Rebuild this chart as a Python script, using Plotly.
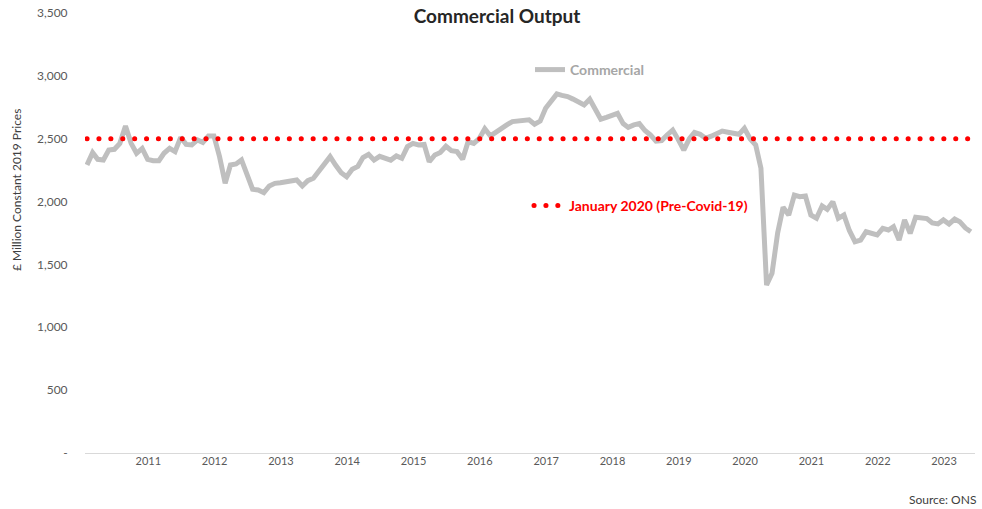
import pandas as pd
import plotly.graph_objects as go

# ---- data ----
start_month = "2010-01-01"
commercial = [
    2291, 2389, 2336, 2331, 2410, 2416, 2463, 2601, 2463, 2384, 2423, 2336,
    2325, 2325, 2384, 2423, 2397, 2511, 2455, 2450, 2490, 2471, 2522, 2522,
    2357, 2145, 2291, 2299, 2331, 2225, 2098, 2092, 2071, 2124, 2145, 2150,
    2158, 2156, 2172, 2124, 2166, 2185, 2240, 2300, 2357, 2290, 2230, 2198,
    2257, 2280, 2350, 2376, 2330, 2360, 2344, 2330, 2363, 2344, 2437, 2463,
    2450, 2455, 2317, 2371, 2390, 2440, 2405, 2397, 2336, 2476, 2462, 2500,
    2580, 2522, 2550, 2575, 2610, 2636, 2640, 2650, 2650, 2615, 2640, 2742,
    2800, 2856, 2845, 2835, 2815, 2790, 2768, 2814, 2735, 2655, 2670, 2690,
    2702, 2620, 2590, 2610, 2620, 2565, 2530, 2480, 2485, 2530, 2569, 2495,
    2410, 2500, 2550, 2535, 2503, 2520, 2535, 2561, 2552, 2546, 2535, 2583,
    2500, 2450, 2265, 1336, 1429, 1750, 1954, 1893, 2052, 2039, 2044, 1893,
    1867, 1965, 1938, 1999, 1867, 1893, 1770, 1681, 1694, 1760, 1745, 1734,
    1787, 1774, 1800, 1694, 1854, 1747, 1875, 1872, 1865, 1830, 1822, 1854,
    1822, 1861, 1840, 1790, 1760,
]
dates = pd.date_range(start_month, periods=len(commercial), freq="MS")
ref_label = "January 2020 (Pre-Covid-19)"
ref_value = commercial[list(dates).index(pd.Timestamp("2020-01-01"))]
reference = [ref_value] * len(commercial)

year_ticks = [pd.Timestamp(f"{y}-01-01") for y in range(2011, 2024)]
year_labels = [str(y) for y in range(2011, 2024)]
y_ticks = [0, 500, 1000, 1500, 2000, 2500, 3000, 3500]
y_labels = ["-", "500", "1,000", "1,500", "2,000", "2,500", "3,000", "3,500"]

FONT = "Lato, 'Open Sans', sans-serif"
TICK_COLOR = "#595959"

fig = go.Figure()
fig.add_trace(go.Scatter(
    x=dates, y=commercial, mode="lines", name="<b>Commercial</b>",
    line=dict(color="#BFBFBF", width=5), legend="legend",
))
fig.add_trace(go.Scatter(
    x=dates, y=reference, mode="lines", name=f"<b>{ref_label}</b>",
    line=dict(color="#FF0000", width=5, dash="0.1px,11.8px"), legend="legend2",
))

L, R, T, B = 85, 7, 13, 56
W, H = 982, 509
pw, ph = W - L - R, H - T - B

def px_x(px):
    return (px - L) / pw

def px_y(py):
    return (H - B - py) / ph

fig.update_layout(
    width=W, height=H,
    margin=dict(l=L, r=R, t=T, b=B, autoexpand=False),
    paper_bgcolor="white", plot_bgcolor="white",
    font=dict(family=FONT, color=TICK_COLOR, size=12),
    title=dict(text="<b>Commercial Output</b>", x=497 / W,
               xanchor="center", y=1 - 16 / H, yanchor="middle",
               font=dict(size=19, color="#262626", family=FONT)),
    xaxis=dict(
        type="date", range=["2009-12-21", "2023-05-24"],
        tickvals=year_ticks, ticktext=year_labels, ticklabelshift=-5,
        showgrid=False, zeroline=False, showline=False, ticks="",
        tickfont=dict(size=11, color=TICK_COLOR),
    ),
    yaxis=dict(
        range=[0, 3500], tickvals=y_ticks, ticktext=y_labels,
        showgrid=False, zeroline=True, zerolinecolor="#D9D9D9", zerolinewidth=1,
        showline=False, ticks="outside", ticklen=14, tickcolor="rgba(0,0,0,0)",
        tickfont=dict(size=12, color=TICK_COLOR),
    ),
    legend=dict(
        x=px_x(530), y=px_y(70), xanchor="left", yanchor="middle",
        bgcolor="rgba(0,0,0,0)", itemwidth=30,
        font=dict(size=14, color="#A6A6A6", family=FONT),
    ),
    legend2=dict(
        x=px_x(529), y=px_y(206), xanchor="left", yanchor="middle",
        bgcolor="rgba(0,0,0,0)", itemwidth=30,
        font=dict(size=14, color="#FF0000", family=FONT),
    ),
    showlegend=True,
)

fig.add_annotation(
    text="£ Million Constant 2019 Prices", textangle=-90,
    xref="paper", yref="paper", x=px_x(17), y=px_y(190),
    xanchor="center", yanchor="middle", showarrow=False,
    font=dict(size=12, color="#404040", family=FONT),
)
fig.add_annotation(
    text="Source: ONS", xref="paper", yref="paper",
    x=px_x(978), y=px_y(499), xanchor="right", yanchor="middle",
    showarrow=False, font=dict(size=12, color="#404040", family=FONT),
)

post = """
document.body.style.margin='0';
function roundDots(){
  document.querySelectorAll('path').forEach(function(p){
    var d = p.style.strokeDasharray;
    if (d && d !== 'none' && d.indexOf('0.1') === 0) { p.style.strokeLinecap = 'round'; }
  });
}
roundDots();
var gd = document.getElementsByClassName('plotly-graph-div')[0];
if (gd && gd.on) { gd.on('plotly_afterplot', roundDots); }
"""

fig.write_html("out.html", config={"displayModeBar": False}, post_script=post)
